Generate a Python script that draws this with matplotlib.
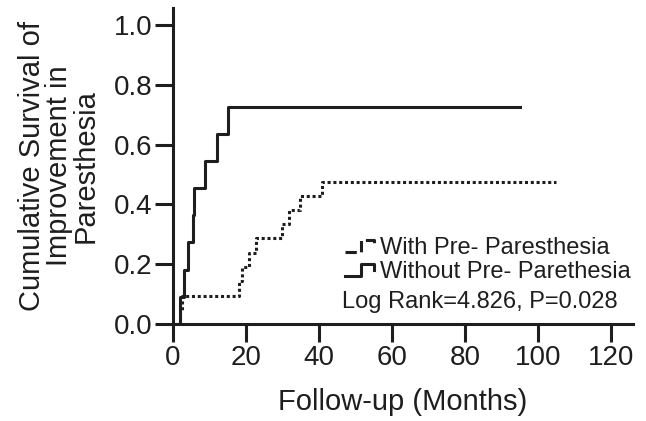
import numpy as np
import matplotlib
matplotlib.use("Agg")
import matplotlib.pyplot as plt
from matplotlib.legend_handler import HandlerBase
from matplotlib.lines import Line2D

plt.rcParams['font.family'] = ['Liberation Sans', 'DejaVu Sans']

''' Kaplan-Meier steps read off the figure '''
without_t = [0, 2, 3, 4, 5.4, 5.8, 8.9, 12, 15, 95]
without_s = [0, 0.091, 0.182, 0.273, 0.364, 0.455, 0.545, 0.636, 0.727, 0.727]

with_t = [0, 2, 2.6, 18, 19, 20.8, 22.6, 29.9, 31.9, 34.8, 40.7, 105]
with_s = [0, 0.048, 0.095, 0.143, 0.190, 0.238, 0.286, 0.333, 0.381, 0.429, 0.476, 0.476]

x_ticks = [0, 20, 40, 60, 80, 100, 120]
y_ticks = [0.0, 0.2, 0.4, 0.6, 0.8, 1.0]

ink = '#1e1e1e'
lw = 2.2
dot_style = (0, (1, 0.9))

class StepHandler(HandlerBase):
    # little step glyph like the one in the original legend
    def create_artists(self, legend, orig_handle, xdescent, ydescent,
                       width, height, fontsize, trans):
        x0 = -xdescent
        y0 = -ydescent
        lo, hi = y0 + 0.1 * height, y0 + 0.85 * height
        xs = [x0, x0 + 0.5 * width, x0 + 0.5 * width, x0 + 0.92 * width, x0 + 0.92 * width]
        ys = [lo, lo, hi, hi, y0 + 0.45 * height]
        ln = Line2D(xs, ys, color=orig_handle.get_color(), lw=orig_handle.get_linewidth(),
                    linestyle=orig_handle.get_linestyle(), transform=trans)
        return [ln]

fig = plt.figure(figsize=(6.46, 4.21), dpi=100)
ax = fig.add_axes([173 / 646, 97 / 421, 460 / 646, 316 / 421])

h1, = ax.step(with_t, with_s, where='post', color=ink, lw=lw, linestyle=dot_style,
              label='With Pre- Paresthesia')
h2, = ax.step(without_t, without_s, where='post', color=ink, lw=lw,
              label='Without Pre- Parethesia')

ax.set_xlim(0, 126)
ax.set_ylim(0, 1.057)
ax.set_xticks(x_ticks)
ax.set_yticks(y_ticks)
ax.set_yticklabels(['%.1f' % v for v in y_ticks])

for s in ['top', 'right']:
    ax.spines[s].set_visible(False)
for s in ['left', 'bottom']:
    ax.spines[s].set_linewidth(lw)
    ax.spines[s].set_color(ink)
ax.tick_params(width=lw, length=13, color=ink, labelsize=20, labelcolor=ink, pad=2)

ax.set_xlabel('Follow-up (Months)', fontsize=21, color=ink, labelpad=12)
ax.set_ylabel('Cumulative Survival of\nImprovement in\nParesthesia', fontsize=21,
              color=ink, linespacing=0.95, labelpad=10)

leg = ax.legend(handles=[h1, h2], loc='lower left', bbox_to_anchor=(0.374, 0.13),
                frameon=False, fontsize=17, handlelength=1.35, handletextpad=0.15,
                labelspacing=0.1, borderpad=0, borderaxespad=0, labelcolor=ink,
                handler_map={Line2D: StepHandler()})
ax.text(0.368, 0.07, 'Log Rank=4.826, P=0.028', transform=ax.transAxes,
        fontsize=17, color=ink, ha='left', va='center')

fig.savefig('out.png', dpi=100)
